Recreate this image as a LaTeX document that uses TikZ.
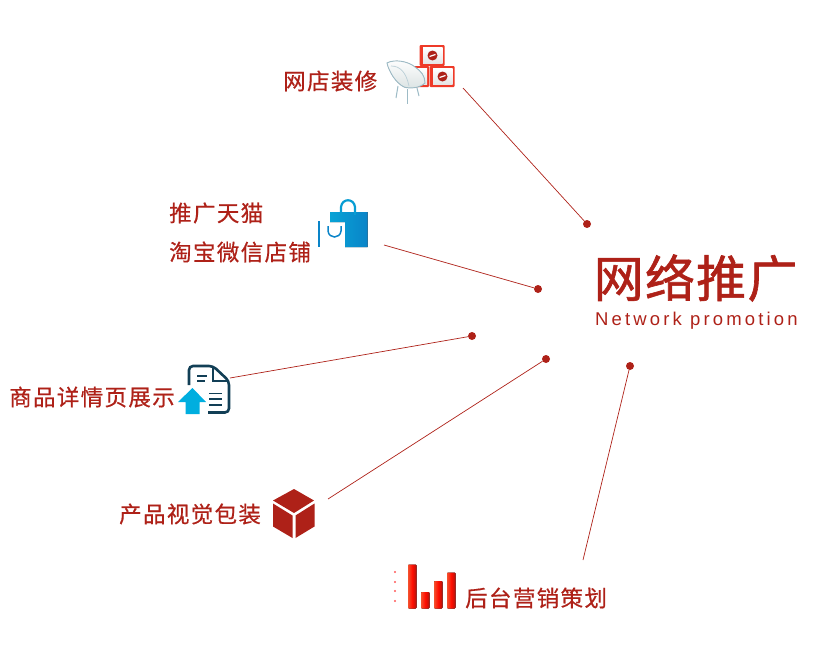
\documentclass[tikz,border=0pt]{standalone}
\usepackage{fontspec}
\usepackage{xcolor}
\usepackage{tikz}
\usetikzlibrary{positioning}
\setmainfont{Liberation Sans}
\newfontfamily\cjkfont[LetterSpace=6,FakeBold=0.5]{Noto Sans CJK SC}
\newfontfamily\bigcjkfont[LetterSpace=2.5,FakeBold=1.2]{Noto Sans CJK SC}
\newfontfamily\latinfont[LetterSpace=17]{Liberation Sans}
\definecolor{brickred}{HTML}{AE2118}
\definecolor{iconblue}{HTML}{0A84C8}
\definecolor{skyblue}{HTML}{00AEDF}
\definecolor{navyline}{HTML}{123F56}
\definecolor{barred}{HTML}{F4502E}
\definecolor{bardark}{HTML}{B0140C}
\definecolor{boxred}{HTML}{EE3A28}
\definecolor{chairline}{HTML}{9DBBC6}
\tikzset{
  label/.style={inner sep=0pt, anchor=west, text=brickred, font=\cjkfont\fontsize{22.5}{22.5}\selectfont},
  spot/.style={circle, fill=brickred, inner sep=0pt, minimum size=8pt},
  spoke/.style={draw=brickred, line width=0.7pt},
  redbar/.style={left color=barred, right color=bardark, middle color=red!90!orange, rounded corners=0.8pt},
  tinydot/.style={circle, fill=red!65, inner sep=0pt, minimum size=2.2pt},
}
\begin{document}
\begin{tikzpicture}[x=1pt,y=-1pt]
\useasboundingbox (0,0) rectangle (825,653);
% title
\node[inner sep=0pt, anchor=west, text=brickred, font=\bigcjkfont\fontsize{50}{50}\selectfont] (title) at (593.5,278) {网络推广};
\node[inner sep=0pt, anchor=west, text=brickred, font=\latinfont\fontsize{18.5}{18.5}\selectfont] (subtitle) at (595,321) {Network promotion};
% labels
\node[label] (shopdeco) at (283,81) {网店装修};
\node[label] (tmallone) at (169,213) {推广天猫};
\node[label] (tmalltwo) at (169,252) {淘宝微信店铺};
\node[label] (detail) at (9,397) {商品详情页展示};
\node[label] (packing) at (119,514) {产品视觉包装};
\node[label] (backend) at (465,598) {后台营销策划};
% spokes
\node[spot] (spotone) at (587,224) {};
\node[spot] (spottwo) at (538,289) {};
\node[spot] (spotthree) at (472,336) {};
\node[spot] (spotfour) at (546,359) {};
\node[spot] (spotfive) at (630,366) {};
\coordinate (endone) at (463,88);
\coordinate (endtwo) at (384,245);
\coordinate (endthree) at (230,378);
\coordinate (endfour) at (328,499);
\coordinate (endfive) at (583,560);
\draw[spoke] (endone) -- (spotone);
\draw[spoke] (endtwo) -- (spottwo);
\draw[spoke] (endthree) -- (spotthree);
\draw[spoke] (endfour) -- (spotfour);
\draw[spoke] (endfive) -- (spotfive);
% red boxes and chair
\foreach \bx/\by in {419.5/45, 404/66, 429.5/66} {
  \fill[boxred, rounded corners=1pt] (\bx,\by) rectangle ++(25,21);
  \fill[top color=white, bottom color=gray!20] (\bx+3.5,\by+2.5) rectangle ++(19.5,15.5);
  \fill[brickred] (\bx+13,\by+10.5) circle (5);
  \draw[white, line width=1.2pt] (\bx+10,\by+11.5) -- ++(6,-2);
}
\filldraw[top color=white, bottom color=cyan!12!gray!25, draw=chairline, line width=0.9pt] (387,63) .. controls (394,59) and (408,61) .. (415,67) .. controls (421,71) and (425,76) .. (425,83) .. controls (420,88) and (410,89) .. (404,87) .. controls (396,83) and (389,72) .. (387,63) -- cycle;
\draw[chairline!70, line width=0.7pt] (391,66) .. controls (400,66) and (406,72) .. (409,86);
\draw[chairline, line width=1pt] (398,86) -- (396,98);
\draw[chairline, line width=1pt] (407,89) -- (407,104);
\draw[chairline, line width=1pt] (417,88) -- (419,96);
% shopping bag
\draw[iconblue, line width=1.6pt] (319,221) -- (319,247);
\fill[left color=iconblue!75!cyan, right color=iconblue] (330,212) -- (367.5,212) -- (367.5,247) -- (345,247) -- (345,222) -- (330,222) -- cycle;
\draw[iconblue!80!cyan, line width=2.2pt] (341,215) -- (341,207) .. controls (342,198) and (354,198) .. (355,207) -- (355,215);
\draw[iconblue, line width=1.5pt] (328,226) -- (328,231) .. controls (329,239) and (340,239) .. (341,231) -- (341,226);
% document icon
\draw[navyline, line width=2.6pt, rounded corners=4pt] (189,385) -- (189,366) -- (213,366) -- (229,381) -- (229,412.5) -- (208,412.5);
\draw[navyline, line width=2.2pt] (213,367) -- (213,381) -- (228,381);
\draw[navyline, line width=1.8pt] (197,376) -- (207,376) (197,381) -- (205,381);
\draw[navyline, line width=1.8pt] (209,393.5) -- (222,393.5) (209,399) -- (222,399) (209,405) -- (222,405);
\fill[skyblue] (192.5,388) -- (206,402) -- (199.5,402) -- (199.5,414) -- (185.5,414) -- (185.5,402) -- (178,402) -- cycle;
% cube
\fill[brickred] (294,489) -- (314,500.5) -- (294,513) -- (273,500.5) -- cycle;
\fill[brickred] (273,503.5) -- (292.5,515.5) -- (292.5,538) -- (273,526.5) -- cycle;
\fill[brickred] (314.5,503.5) -- (295.5,515.5) -- (295.5,538) -- (314.5,526.5) -- cycle;
% bars
\foreach \bx/\by in {408/564.5, 421/592, 434/581, 447/572.5} {
  \fill[redbar] (\bx,\by) rectangle (\bx+8.5,608.5);
}
\foreach \dy in {572,582,591,601} {
  \node[tinydot] (tick\dy) at (395,\dy) {};
}
\end{tikzpicture}
\end{document}
